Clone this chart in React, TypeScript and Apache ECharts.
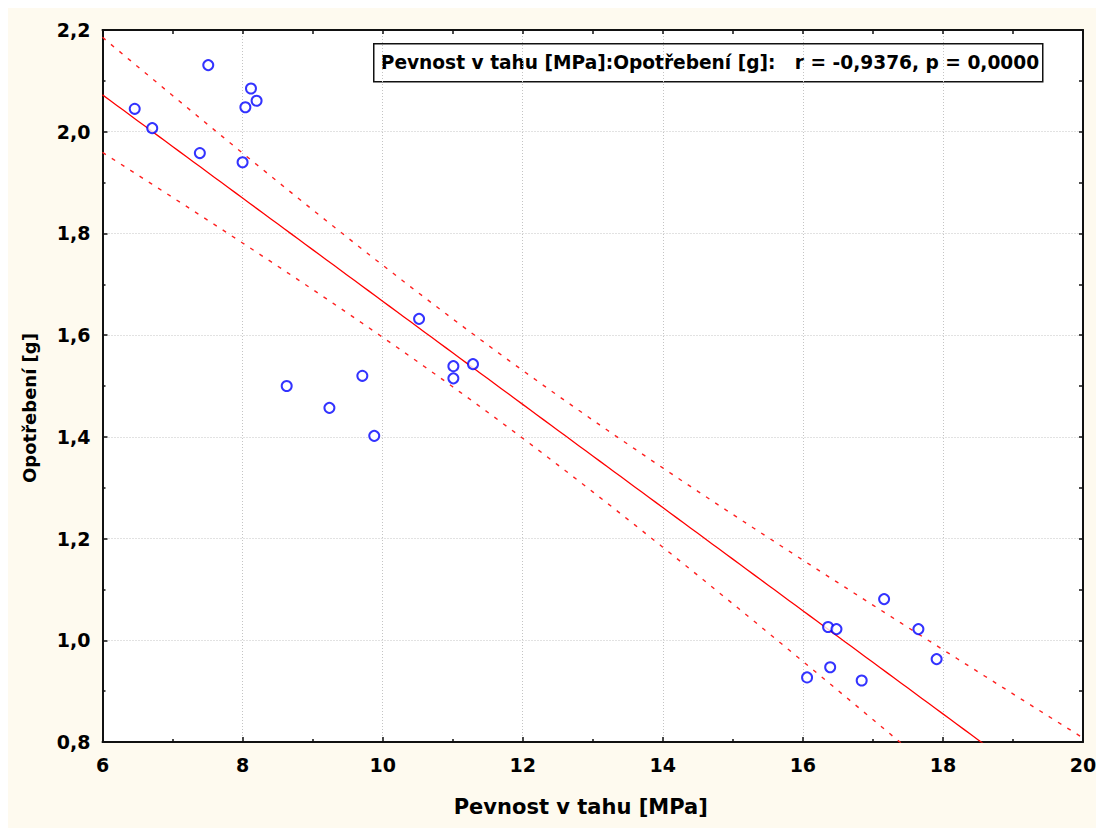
import React, { useEffect, useRef } from "react";
import * as echarts from "echarts";

const tensileStrength = [6.46, 6.71, 7.51, 7.39, 8.0, 8.12, 8.04, 8.2, 8.63, 9.24, 9.71, 9.88, 10.52, 11.01, 11.01, 11.29, 17.16, 16.36, 16.48, 17.65, 17.91, 16.39, 16.06, 16.84];
const wear = [2.045, 2.007, 2.131, 1.958, 1.94, 2.085, 2.048, 2.061, 1.5, 1.457, 1.52, 1.402, 1.632, 1.539, 1.515, 1.543, 1.081, 1.026, 1.022, 1.022, 0.963, 0.947, 0.927, 0.921];

const xTitle = "Pevnost v tahu [MPa]";
const yTitle = "Opotřebení [g]";
const statsText = "Pevnost v tahu [MPa]:Opotřebení [g]:   r = -0,9376, p = 0,0000";
const X_MIN = 6;
const X_MAX = 20;
const Y_MIN = 0.8;
const Y_MAX = 2.2;
const T_975_DF22 = 2.0739; // Student t quantile for 95 % confidence band, n = 24

function regression(xs: number[], ys: number[]) {
  const n = xs.length;
  const mx = xs.reduce((a, b) => a + b, 0) / n;
  const my = ys.reduce((a, b) => a + b, 0) / n;
  let sxx = 0, sxy = 0;
  for (let i = 0; i < n; i++) {
    sxx += (xs[i] - mx) ** 2;
    sxy += (xs[i] - mx) * (ys[i] - my);
  }
  const b = sxy / sxx;
  const a = my - b * mx;
  let sse = 0;
  for (let i = 0; i < n; i++) sse += (ys[i] - a - b * xs[i]) ** 2;
  const s = Math.sqrt(sse / (n - 2));
  return { a, b, mx, sxx, s, n };
}

export default function App() {
  const ref = useRef<HTMLDivElement>(null);
  useEffect(() => {
    document.body.style.overflow = "hidden";
    const chart = echarts.init(ref.current!, undefined, { renderer: "svg" });
    const r = regression(tensileStrength, wear);
    const fit: number[][] = [];
    const upper: number[][] = [];
    const lower: number[][] = [];
    for (let i = 0; i <= 140; i++) {
      const x = X_MIN + i * 0.1;
      const yh = r.a + r.b * x;
      const hw = T_975_DF22 * r.s * Math.sqrt(1 / r.n + (x - r.mx) ** 2 / r.sxx);
      fit.push([x, yh]);
      upper.push([x, yh + hw]);
      lower.push([x, yh - hw]);
    }
    const font = "DejaVu Sans";
    const axisLineStyle = { color: "#111", width: 2 };
    chart.setOption({
      animation: false,
      backgroundColor: "#fefaef",
      grid: { left: 94.5, top: 22, right: 21, bottom: 86, backgroundColor: "#ffffff", show: true, borderWidth: 0 },
      xAxis: [
        {
          type: "value", min: X_MIN, max: X_MAX, interval: 2, position: "bottom",
          axisLine: { show: true, onZero: false, lineStyle: axisLineStyle },
          axisTick: { show: true, inside: true, length: 5, lineStyle: { color: "#111", width: 1.5 } },
          minorTick: { show: true, splitNumber: 2, length: 3, lineStyle: { color: "#111", width: 1.5 } },
          splitLine: { show: true, lineStyle: { color: "#c4c4c4", type: [1, 2], width: 1 } },
          axisLabel: { color: "#000", fontFamily: font, fontWeight: "bold", fontSize: 19, margin: 13 },
          name: xTitle, nameLocation: "middle", nameGap: 54,
          nameTextStyle: { color: "#000", fontFamily: font, fontWeight: "bold", fontSize: 21, padding: [0, 24, 0, 0] },
        },
        {
          type: "value", min: X_MIN, max: X_MAX, interval: 1, position: "top",
          axisLine: { show: true, onZero: false, lineStyle: axisLineStyle },
          axisTick: { show: true, inside: true, length: 4, lineStyle: { color: "#111", width: 1.5 } },
          axisLabel: { show: false }, splitLine: { show: false },
        },
      ],
      yAxis: [
        {
          type: "value", min: Y_MIN, max: Y_MAX, interval: 0.2, position: "left",
          axisLine: { show: true, onZero: false, lineStyle: axisLineStyle },
          axisTick: { show: true, inside: true, length: 5, lineStyle: { color: "#111", width: 1.5 } },
          minorTick: { show: true, splitNumber: 2, length: 3, lineStyle: { color: "#111", width: 1.5 } },
          splitLine: { show: true, lineStyle: { color: "#c4c4c4", type: [1, 2], width: 1 } },
          axisLabel: {
            color: "#000", fontFamily: font, fontWeight: "bold", fontSize: 19, margin: 12,
            formatter: (v: number) => v.toFixed(1).replace(".", ","),
          },
          name: yTitle, nameLocation: "middle", nameGap: 64, nameRotate: 90,
          nameTextStyle: { color: "#000", fontFamily: font, fontWeight: "bold", fontSize: 18, padding: [0, 44, 0, 0] },
        },
        {
          type: "value", min: Y_MIN, max: Y_MAX, interval: 0.1, position: "right",
          axisLine: { show: true, onZero: false, lineStyle: axisLineStyle },
          axisTick: { show: true, inside: true, length: 4, lineStyle: { color: "#111", width: 1.5 } },
          axisLabel: { show: false }, splitLine: { show: false },
        },
      ],
      series: [
        {
          type: "line", data: fit, showSymbol: false, symbol: "none", clip: true, z: 2,
          lineStyle: { color: "#ff0000", width: 1.3 },
        },
        {
          type: "line", data: upper, showSymbol: false, symbol: "none", clip: true, z: 2,
          lineStyle: { color: "#ff2020", width: 1.4, type: [4, 7] },
        },
        {
          type: "line", data: lower, showSymbol: false, symbol: "none", clip: true, z: 2,
          lineStyle: { color: "#ff2020", width: 1.4, type: [4, 7] },
        },
        {
          type: "scatter", z: 5,
          data: tensileStrength.map((x, i) => [x, wear[i]]),
          symbol: "emptyCircle", symbolSize: 10,
          itemStyle: { color: "#0000ff", borderColor: "#0000ff", borderWidth: 1.6 },
        },
      ],
      graphic: [
        {
          type: "group", left: 365, top: 35, z: 100,
          children: [
            { type: "rect", shape: { x: 0, y: 0, width: 669, height: 38 }, style: { fill: "#fff", stroke: "#111", lineWidth: 1.5 } },
            {
              type: "text", x: 7, y: 19,
              style: { text: statsText, fill: "#000", font: `bold 18.6px "${font}"`, textVerticalAlign: "middle", verticalAlign: "middle" },
            },
          ],
        },
      ],
    });
    return () => chart.dispose();
  }, []);
  return <div ref={ref} style={{ width: 1096, height: 820 }} />;
}
